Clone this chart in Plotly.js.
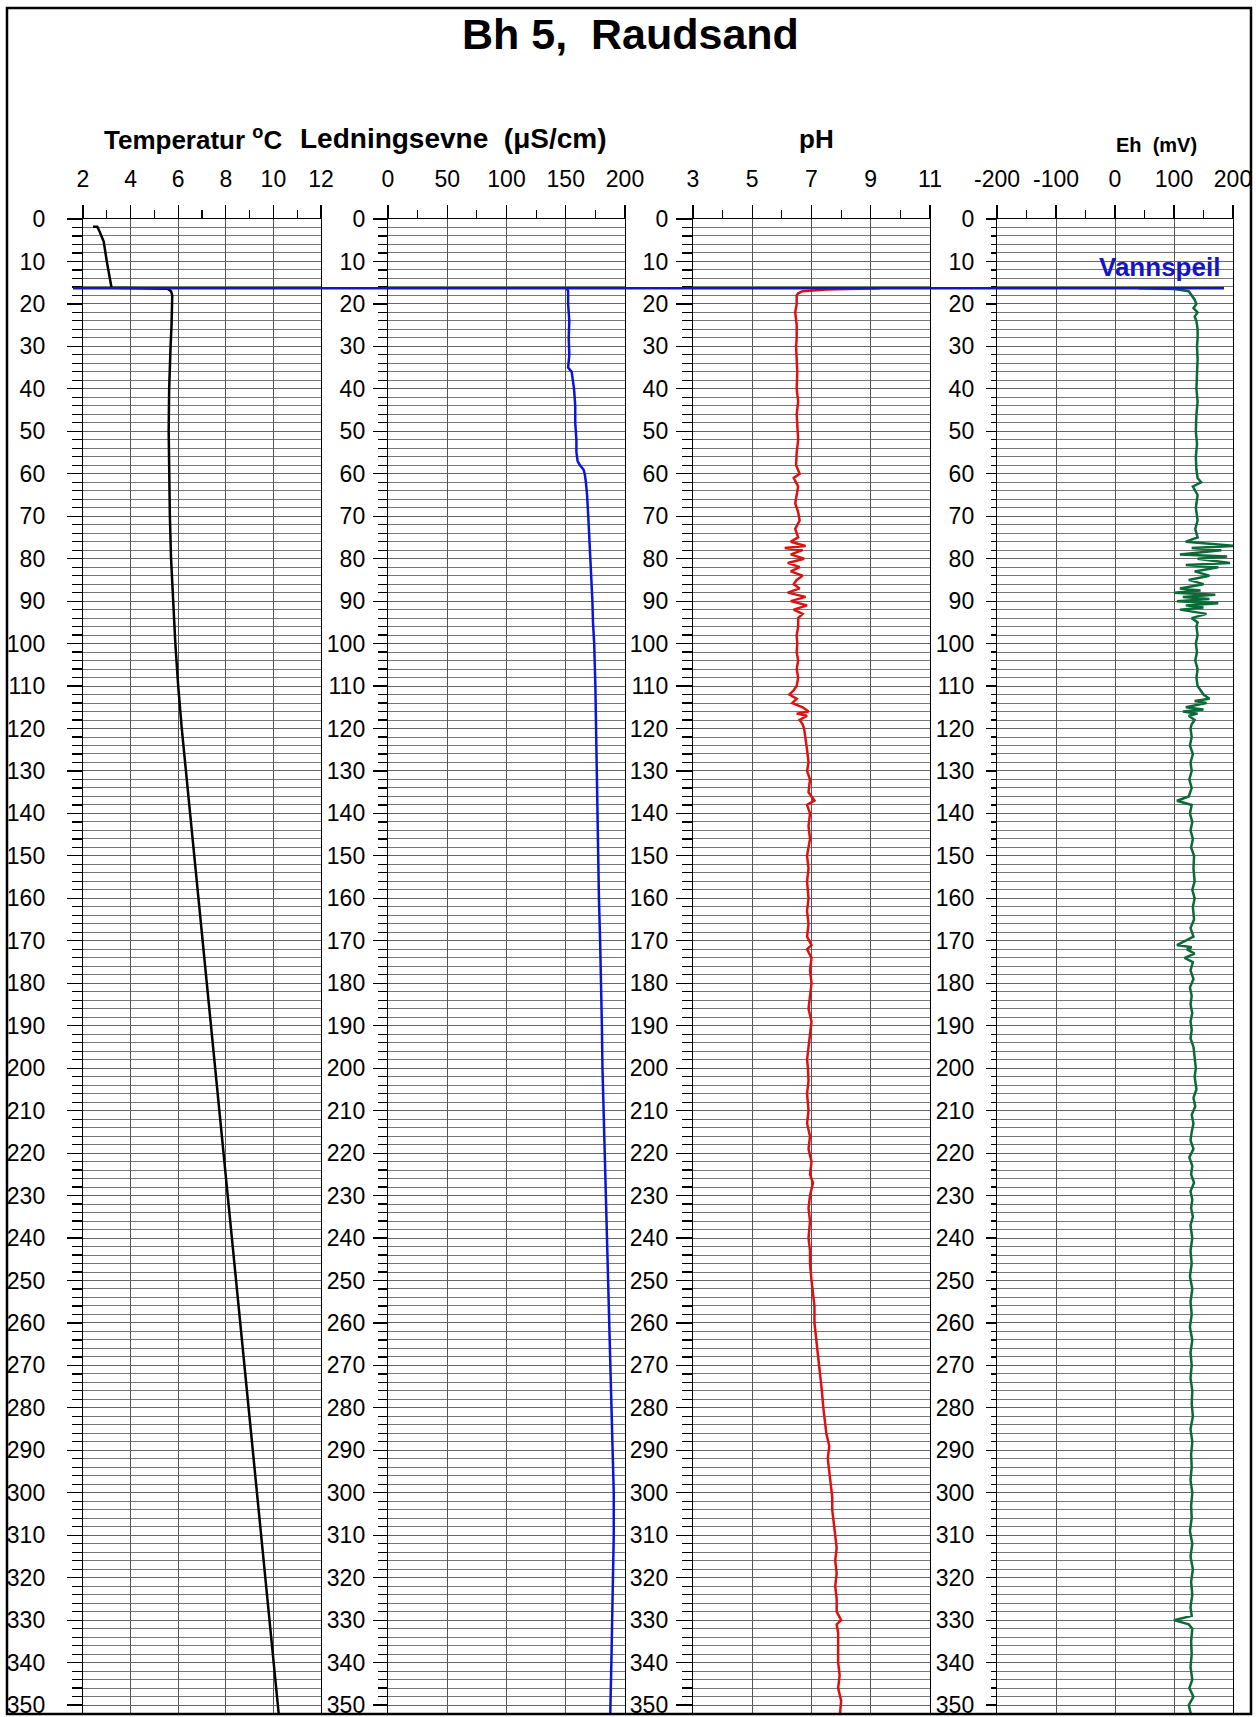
<!DOCTYPE html>
<html>
<head>
<meta charset="utf-8">
<script src="https://cdn.plot.ly/plotly-3.0.1.min.js"></script>
<style>html,body{margin:0;padding:0;background:#fff;}#chart{width:1256px;height:1717px;}</style>
</head>
<body>
<div id="chart"></div>
<script>
// ---------------- DATA ----------------
const chartTitle = "Bh 5,\u00a0 Raudsand";
const panelTitles = ["Temperatur <sup>o</sup>C", "Ledningsevne \u00a0(\u03bcS/cm)", "pH", "Eh \u00a0(mV)"];
const waterTableDepth = 16.3;
const waterTableLabel = "Vannspeil";

const tempDepth = [1.8, 1.8, 3, 5.3, 10, 16.2, 16.4, 17, 18, 20, 25, 30, 35, 40, 50, 60, 70, 80, 90, 100, 110, 120, 140, 160, 180, 200, 220, 240, 260, 280, 300, 320, 340, 353];
const tempValue = [2.42, 2.6, 2.7, 2.87, 3.0, 3.2, 5.55, 5.7, 5.75, 5.75, 5.72, 5.68, 5.65, 5.62, 5.6, 5.62, 5.65, 5.7, 5.78, 5.88, 6.0, 6.15, 6.5, 6.85, 7.2, 7.55, 7.9, 8.25, 8.6, 8.95, 9.3, 9.65, 10.0, 10.24];

const condDepth = [16.3, 17, 20, 24, 28, 32, 35, 36, 38, 40, 44, 48, 52, 55, 57, 58, 59, 60, 62, 65, 70, 75, 80, 85, 90, 95, 100, 110, 120, 130, 140, 150, 160, 170, 180, 190, 200, 210, 220, 230, 240, 250, 260, 270, 280, 290, 300, 310, 320, 330, 340, 353];
const condValue = [151, 152, 152, 153, 152.5, 153, 152, 155, 156, 157, 158, 158, 159, 159, 160, 162, 165, 166, 167, 168, 169, 170, 171, 172, 172.5, 173, 174, 175, 175.5, 176, 177, 177.5, 178, 179, 180, 180.5, 181, 182, 183, 184, 185, 186, 187, 188, 189, 190, 190.5, 190.5, 190, 189, 188.5, 187.5];

const phDepth = [16.3, 16.6, 17, 17.5, 18, 20, 22, 25, 28, 30, 33, 36, 40, 43, 46, 49, 52, 55, 58, 60, 61, 63, 65, 67, 69, 71, 73, 75,
  76, 77, 77.5, 78, 79, 80, 81, 82, 83, 84, 85, 86, 87, 88, 89, 90, 91, 92, 93, 94,
  96, 98, 100, 102, 104, 106, 108, 110, 111, 112, 113, 114, 115, 116, 116.5, 117, 118, 119, 120,
  122, 125, 128, 130, 132, 135, 137, 138, 140, 143, 146, 150, 153, 156, 160, 163, 166, 169, 171, 172, 174, 177, 180, 183, 186, 189, 192, 195, 198,
  200, 203, 206, 210, 213, 216, 219, 222, 225, 227, 230, 233, 236, 240, 243, 246, 250, 253, 256, 260, 263, 266, 270, 273, 276, 280, 283, 286, 289, 292, 295, 298,
  301, 304, 307, 310, 313, 316, 319, 322, 325, 328, 330, 331, 333, 336, 340, 343, 346, 349, 353];
const phValue = [9.3, 7.5, 6.7, 6.55, 6.5, 6.5, 6.45, 6.5, 6.5, 6.48, 6.5, 6.52, 6.5, 6.55, 6.5, 6.52, 6.55, 6.5, 6.48, 6.6, 6.4, 6.55, 6.5, 6.45, 6.55, 6.6, 6.45, 6.55,
  6.3, 6.8, 6.1, 6.7, 6.3, 6.75, 6.2, 6.6, 6.3, 6.7, 6.5, 6.4, 6.6, 6.2, 6.8, 6.3, 6.85, 6.4, 6.7, 6.55,
  6.55, 6.5, 6.52, 6.5, 6.55, 6.5, 6.55, 6.5, 6.4, 6.25, 6.5, 6.35, 6.7, 6.9, 6.5, 6.85, 6.6, 6.7, 6.75,
  6.8, 6.85, 6.9, 6.85, 6.95, 6.9, 7.1, 6.85, 6.95, 6.9, 6.95, 6.85, 6.9, 6.85, 6.9, 6.85, 6.9, 6.85, 7.0, 6.85, 7.0, 6.95, 7.0, 6.95, 6.9, 7.0, 6.95, 6.9, 6.85,
  6.88, 6.9, 6.85, 6.9, 6.85, 6.95, 6.9, 7.0, 6.95, 7.05, 6.95, 6.9, 6.95, 6.9, 6.95, 6.95, 7.0, 7.05, 7.1, 7.1, 7.15, 7.2, 7.25, 7.3, 7.35, 7.4, 7.45, 7.5, 7.6, 7.55, 7.6, 7.65,
  7.7, 7.7, 7.75, 7.8, 7.85, 7.8, 7.85, 7.8, 7.85, 7.85, 8.0, 7.85, 7.9, 7.9, 7.9, 7.95, 7.9, 8.0, 7.95];

const ehDepth = [16.3, 16.5, 17, 18, 19, 20, 21, 22, 23, 24, 26, 28, 30, 33, 36, 40, 43, 46, 50, 53, 56, 59, 61, 62, 63, 65, 68, 71, 73, 75,
  76, 76.5, 77, 77.5, 78, 79, 79.5, 80, 81, 81.5, 82, 83, 84, 85, 86, 87, 87.5, 88, 88.5, 89, 89.5, 90, 90.5, 91, 91.5, 92, 93, 94, 95,
  96, 98, 100, 102, 104, 106, 108, 110, 111, 112, 113, 113.5, 114, 115, 115.5, 116, 116.5, 117, 118, 119, 120,
  122, 124, 126, 128, 130, 132, 134, 136, 137, 138, 140, 142, 144, 146, 148, 150, 153, 156, 158, 160, 162, 165, 167, 169, 170, 171, 171.5, 172, 173, 174, 175, 177, 179,
  181, 183, 185, 187, 189, 191, 193, 195, 198, 200, 202, 205, 207, 209, 211, 213, 215, 217, 219, 221, 223, 225, 227, 229, 231, 233, 235, 237, 240, 243, 246, 249,
  252, 255, 258, 261, 264, 267, 270, 273, 276, 279, 282, 285, 288, 291, 294, 297, 300, 303, 306, 309, 312, 315, 318, 321, 324, 327, 329, 330, 331, 332, 335, 338, 341, 344, 346, 348, 350, 353];
const ehValue = [40, 100, 125, 130, 135, 138, 133, 140, 135, 138, 140, 140, 139, 140, 139, 138, 140, 138, 137, 139, 137, 138, 140, 146, 132, 140, 137, 140, 136, 140,
  120, 160, 205, 130, 180, 110, 190, 140, 195, 120, 175, 135, 160, 125, 150, 110, 145, 100, 170, 115, 160, 105, 175, 120, 150, 110, 155, 130, 140,
  138, 140, 137, 139, 136, 140, 138, 140, 145, 150, 160, 135, 155, 120, 150, 115, 140, 125, 135, 130, 128,
  130, 127, 132, 128, 130, 126, 130, 125, 105, 130, 127, 131, 128, 132, 129, 134, 133, 135, 131, 135, 132, 134, 128, 133, 120, 105, 130, 122, 135, 118, 132, 128, 133,
  127, 130, 128, 131, 128, 130, 128, 133, 136, 137, 135, 138, 133, 136, 130, 133, 130, 128, 133, 126, 131, 129, 134, 128, 131, 129, 132, 128, 131, 128, 130, 127,
  131, 128, 130, 127, 131, 128, 130, 128, 131, 130, 132, 128, 131, 129, 130, 128, 131, 129, 130, 127, 131, 128, 132, 129, 131, 128, 130, 100, 125, 131, 129, 130, 128, 131, 126, 133, 125, 130];

const xRanges = [[2, 12], [0, 200], [3, 11], [-200, 200]];
const xTickVals = [[2, 4, 6, 8, 10, 12], [0, 50, 100, 150, 200], [3, 5, 7, 9, 11], [-200, -100, 0, 100, 200]];
const xTickText = [["2", "4", "6", "8", "10", "12"], ["0", "50", "100", "150", "200"], ["3", "5", "7", "9", "11"], ["-200", "-100", "0", "100", "200"]];
const xMinor = [1, 25, 1, 50];
const depthRange = [352.1, 0];

// ---------------- LAYOUT ----------------
const W = 1256, H = 1717;
const px = v => v / W;
const py = v => 1 - v / H;
const FONT = "Liberation Sans, Arial, sans-serif";
const panelPx = [[83, 321], [388, 625], [693, 930], [997, 1233]];
const plotTop = 219, plotBottom = 1714;
const colors = ["#000000", "#0a14dc", "#e01010", "#0b6a38"];
const yStandoff = [17, 3, 3, 7];
const yTickLen = [15, 14, 16, 10];
const yMinorLen = [10, 9, 10, 5];

const layout = {
  width: W, height: H,
  margin: {l: 0, r: 0, t: 0, b: 0, pad: 0},
  paper_bgcolor: "#ffffff", plot_bgcolor: "#ffffff",
  showlegend: false,
  font: {family: FONT, color: "#000", size: 23},
  shapes: [], annotations: []
};

for (let i = 0; i < 4; i++) {
  const s = i === 0 ? "" : String(i + 1);
  layout["xaxis" + s] = {
    domain: [px(panelPx[i][0]), px(panelPx[i][1])],
    range: xRanges[i], anchor: "y" + s, side: "top",
    tickmode: "array", tickvals: xTickVals[i], ticktext: xTickText[i],
    showline: true, linecolor: "#000", linewidth: 1.5,
    ticks: "outside", ticklen: 13, tickwidth: 1.2, tickcolor: "#000",
    showgrid: true, gridcolor: "#555", gridwidth: 1, zeroline: false,
    tickfont: {family: FONT, size: 23, color: "#000"},
    ticklabelstandoff: 8, ticklabeloverflow: "allow",
    minor: {dtick: xMinor[i], tick0: xRanges[i][0], ticks: "outside", ticklen: 8, tickwidth: 1.2, tickcolor: "#000", showgrid: false},
    fixedrange: true
  };
  layout["yaxis" + s] = {
    domain: [py(plotBottom), py(plotTop)],
    range: depthRange, anchor: "x" + s, side: "left",
    dtick: 10, tick0: 0,
    showline: true, mirror: true, linecolor: "#000", linewidth: 1.2,
    ticks: "outside", ticklen: yTickLen[i], tickwidth: 1.2, tickcolor: "#000",
    showgrid: true, gridcolor: "#666", gridwidth: 1, zeroline: false,
    tickfont: {family: FONT, size: 23, color: "#000"},
    ticklabelstandoff: yStandoff[i], ticklabeloverflow: "allow",
    minor: {dtick: 2, tick0: 0, ticks: "outside", ticklen: yMinorLen[i], tickwidth: 1.2, tickcolor: "#000", showgrid: true, gridcolor: "#777", gridwidth: 1},
    fixedrange: true
  };
}

// frame
layout.shapes.push({type: "rect", xref: "paper", yref: "paper", x0: px(7), x1: px(1251), y0: py(1714), y1: py(8), line: {color: "#000", width: 2.5}, fillcolor: "rgba(0,0,0,0)", layer: "above"});
// water table
layout.shapes.push({type: "line", xref: "paper", yref: "y", x0: px(73), x1: px(1224), y0: waterTableDepth, y1: waterTableDepth, line: {color: "#1515c8", width: 2.5}, layer: "above"});

// title
layout.annotations.push({text: "<b>" + chartTitle + "</b>", xref: "paper", yref: "paper", x: px(630), y: py(34), xanchor: "center", yanchor: "middle", showarrow: false, font: {family: FONT, size: 43, color: "#000"}});
// panel titles
const titleX = [193, 454, 816, 1156];
const titleY = [139, 139, 139, 145];
const titleSize = [26, 28, 26, 20];
for (let i = 0; i < 4; i++) {
  layout.annotations.push({text: "<b>" + panelTitles[i] + "</b>", xref: "paper", yref: "paper", x: px(titleX[i]), y: py(titleY[i]), xanchor: "center", yanchor: "middle", showarrow: false, font: {family: FONT, size: titleSize[i], color: "#000"}});
}
// water table label
layout.annotations.push({text: "<b>" + waterTableLabel + "</b>", xref: "paper", yref: "y", x: px(1222), y: 11.3, xanchor: "right", yanchor: "middle", showarrow: false, font: {family: FONT, size: 26, color: "#1515c8"}});

const series = [[tempValue, tempDepth], [condValue, condDepth], [phValue, phDepth], [ehValue, ehDepth]];
const data = series.map((sr, i) => {
  const s = i === 0 ? "" : String(i + 1);
  return {type: "scatter", mode: "lines", x: sr[0], y: sr[1], xaxis: "x" + s, yaxis: "y" + s,
    line: {color: colors[i], width: 2.5}, hoverinfo: "skip"};
});

Plotly.newPlot("chart", data, layout, {staticPlot: true, displayModeBar: false});
</script>
</body>
</html>
